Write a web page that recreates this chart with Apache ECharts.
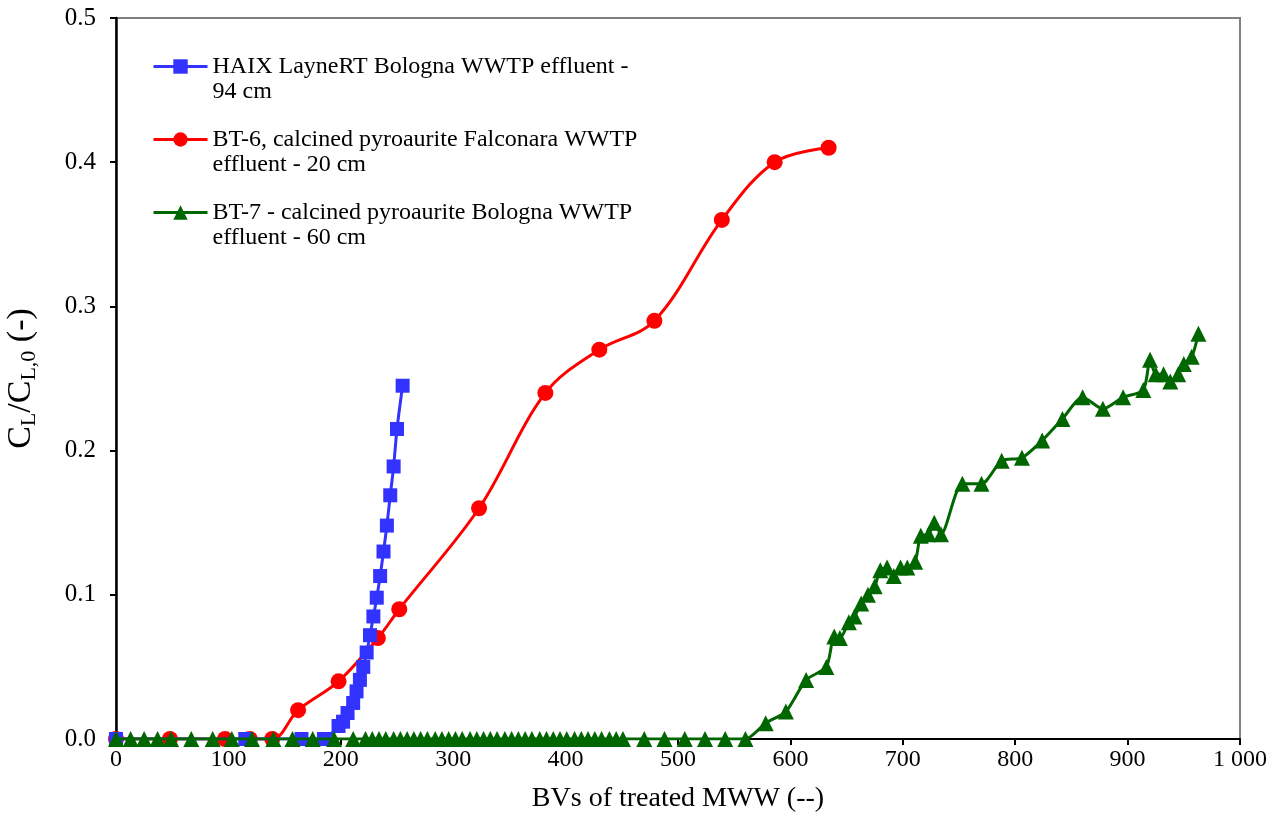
<!DOCTYPE html>
<html>
<head>
<meta charset="utf-8">
<script src="https://cdn.jsdelivr.net/npm/echarts@6/dist/echarts.min.js"></script>
<style>
  html, body { margin: 0; padding: 0; background: #fff; }
  #chart { width: 1279px; height: 829px; }
</style>
</head>
<body>
<div id="chart"></div>
<script>
// HAIX LayneRT (blue squares)
const blueX = [0, 115, 165, 185, 198, 202, 206, 211, 214, 217, 220, 223, 226, 229, 232, 235, 238, 241, 244, 247, 250, 255]
const blueY = [0, 0, 0, 0, 0.009, 0.012, 0.018, 0.025, 0.033, 0.041, 0.050, 0.060, 0.072, 0.085, 0.098, 0.113, 0.130, 0.148, 0.169, 0.189, 0.215, 0.245]

// BT-6 (red circles)
const redX = [0, 48, 97, 119, 139, 162, 198, 233, 252, 323, 382, 430, 479, 539, 586, 634]
const redY = [0, 0, 0, 0, 0, 0.02, 0.04, 0.07, 0.09, 0.16, 0.24, 0.27, 0.29, 0.36, 0.40, 0.41]

// BT-7 (green triangles)
const greenX = [0, 13, 25, 37, 49, 67, 86, 103, 121, 140, 157, 175, 194, 211,
  222, 228, 234, 240, 247, 253, 259, 265, 271, 277, 284, 290, 296, 302, 308, 315, 321, 327, 333,
  339, 346, 352, 358, 364, 370, 377, 383, 389, 395, 401, 408, 414, 420, 426, 432, 439, 445, 451,
  470, 488, 506, 524, 542, 560, 578, 596, 614, 632, 639, 644, 652, 657, 663, 669, 675, 680, 686,
  692, 698, 704, 711, 716, 723, 728, 734, 753, 770, 788, 806, 824, 842, 860, 878, 896, 914, 920,
  925, 932, 938, 945, 950, 957, 963]
const greenY = [0, 0, 0, 0, 0, 0, 0, 0, 0, 0, 0, 0, 0, 0,
  0, 0, 0, 0, 0, 0, 0, 0, 0, 0, 0, 0, 0, 0, 0, 0, 0, 0, 0,
  0, 0, 0, 0, 0, 0, 0, 0, 0, 0, 0, 0, 0, 0, 0, 0, 0, 0, 0,
  0, 0, 0, 0, 0, 0, 0.011, 0.019, 0.041, 0.050, 0.071, 0.070, 0.081, 0.085, 0.094, 0.100, 0.106, 0.117, 0.119,
  0.113, 0.119, 0.119, 0.123, 0.141, 0.142, 0.150, 0.142, 0.177, 0.177, 0.193, 0.195, 0.207, 0.222, 0.237, 0.229, 0.237, 0.242, 0.263,
  0.253, 0.253, 0.248, 0.253, 0.260, 0.265, 0.281]

const seriesNames = [
  'HAIX LayneRT Bologna WWTP effluent - 94 cm',
  'BT-6, calcined pyroaurite Falconara WWTP effluent - 20 cm',
  'BT-7 - calcined pyroaurite Bologna WWTP effluent - 60 cm'
]
// empty first line keeps the first real line level with the legend icon
const legendLines = [
  '\nHAIX LayneRT Bologna WWTP effluent -\n94 cm',
  '\nBT-6, calcined pyroaurite Falconara WWTP\neffluent - 20 cm',
  '\nBT-7 - calcined pyroaurite Bologna WWTP\neffluent - 60 cm'
]

const xTicks = [0, 100, 200, 300, 400, 500, 600, 700, 800, 900, 1000]

const serif = "'Liberation Serif', 'Times New Roman', serif"
const zip = (xs, ys) => xs.map((x, i) => [x, ys[i]])

const chart = echarts.init(document.getElementById('chart'))
chart.setOption({
  backgroundColor: '#fff',
  animation: false,
  textStyle: { fontFamily: serif, color: '#000' },
  grid: {
    left: 116, right: 39, top: 18, bottom: 90,
    outerBoundsMode: 'none',
    containLabel: false,
    show: true,
    borderColor: '#808080',
    borderWidth: 2
  },
  legend: {
    orient: 'vertical',
    left: 152,
    top: 29,
    padding: 0,
    itemGap: -2,
    itemWidth: 54,
    itemHeight: 18,
    data: seriesNames,
    lineStyle: { width: 3 },
    formatter: (name) => legendLines[seriesNames.indexOf(name)],
    textStyle: {
      fontFamily: serif,
      fontSize: 24,
      lineHeight: 25,
      color: '#000'
    }
  },
  xAxis: {
    type: 'value',
    min: 0,
    max: 1000,
    interval: 100,
    name: 'BVs of treated MWW (--)',
    nameLocation: 'middle',
    nameGap: 46,
    nameTextStyle: { fontFamily: serif, fontSize: 28, color: '#000' },
    axisLine: { onZero: false, lineStyle: { color: '#000', width: 2 } },
    axisTick: { show: true, length: 6, lineStyle: { color: '#000', width: 2 } },
    axisLabel: {
      fontFamily: serif,
      fontSize: 24,
      color: '#000',
      margin: 9,
      formatter: (v) => xTicks.includes(v) ? (v === 1000 ? '1 000' : String(v)) : ''
    },
    splitLine: { show: false }
  },
  yAxis: {
    type: 'value',
    min: 0,
    max: 0.5,
    interval: 0.1,
    name: '{c|C}{s|L}{c|/C}{s|L,0}{c| (-)}',
    nameLocation: 'middle',
    nameGap: 76,
    nameTextStyle: {
      rich: {
        c: { fontFamily: serif, fontSize: 34, color: '#000', lineHeight: 38 },
        s: { fontFamily: serif, fontSize: 22, color: '#000', lineHeight: 38, verticalAlign: 'bottom', padding: [14, 0, 0, 0] }
      }
    },
    axisLine: { onZero: false, lineStyle: { color: '#000', width: 2.5 } },
    axisTick: { show: true, length: 6, lineStyle: { color: '#000', width: 2 } },
    axisLabel: {
      fontFamily: serif,
      fontSize: 25,
      color: '#000',
      margin: 20,
      formatter: (v) => v.toFixed(1)
    },
    splitLine: { show: false }
  },
  series: [
    {
      name: seriesNames[0],
      type: 'line',
      data: zip(blueX, blueY),
      smooth: 0.3,
      symbol: 'rect',
      symbolSize: 14,
      color: '#3333FF',
      lineStyle: { color: '#3333FF', width: 3 },
      itemStyle: { color: '#3333FF' },
      z: 3
    },
    {
      name: seriesNames[1],
      type: 'line',
      data: zip(redX, redY),
      smooth: 0.35,
      symbol: 'circle',
      symbolSize: 16,
      color: '#FF0000',
      lineStyle: { color: '#FF0000', width: 3 },
      itemStyle: { color: '#FF0000' },
      z: 2
    },
    {
      name: seriesNames[2],
      type: 'line',
      data: zip(greenX, greenY),
      smooth: 0.25,
      symbol: 'triangle',
      symbolSize: 16,
      color: '#006600',
      lineStyle: { color: '#006600', width: 3 },
      itemStyle: { color: '#006600' },
      z: 4
    }
  ]
})
</script>
</body>
</html>
